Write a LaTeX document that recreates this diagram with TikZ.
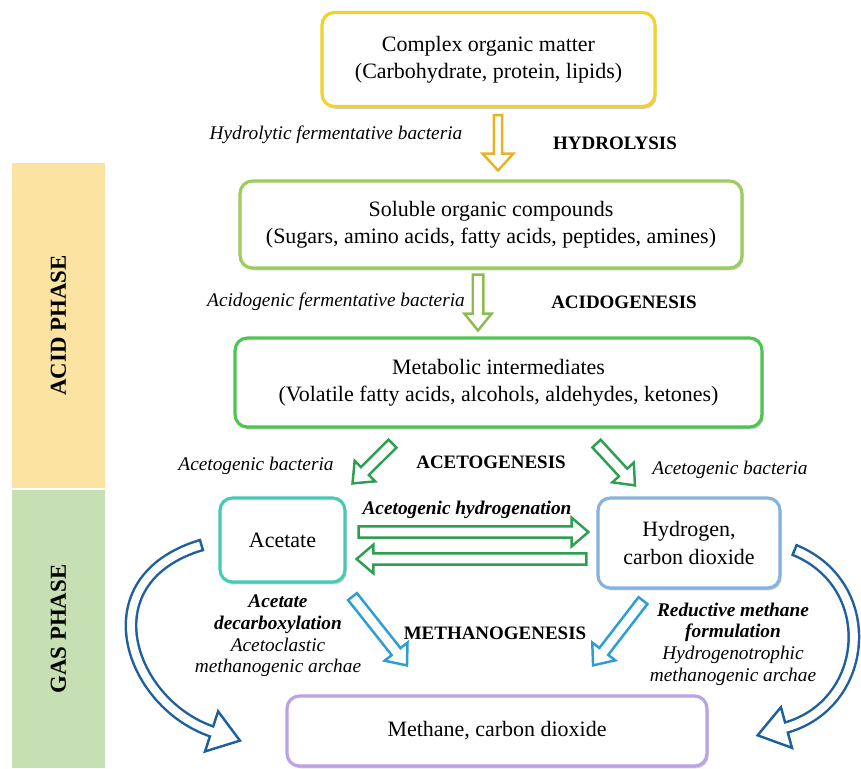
\documentclass[tikz,border=0pt]{standalone}
\usepackage{fontspec}
\setmainfont{Liberation Serif}
\usetikzlibrary{calc, shadows, decorations.markings}

\definecolor{acidfill}{HTML}{FBE3A1}
\definecolor{gasfill}{HTML}{C6E0B4}
\definecolor{boxyellow}{HTML}{F0D22A}
\definecolor{boxlime}{HTML}{9CCB5E}
\definecolor{boxgreen}{HTML}{4EC452}
\definecolor{boxteal}{HTML}{45CBB5}
\definecolor{boxblue}{HTML}{86B2DE}
\definecolor{boxviolet}{HTML}{B9A2E6}
\definecolor{arrgold}{HTML}{E8B226}
\definecolor{arrolive}{HTML}{8DBB4F}
\definecolor{arrgreen}{HTML}{2E9E50}
\definecolor{arrsky}{HTML}{2B9ED2}
\definecolor{arrnavy}{HTML}{1E5F9E}

\tikzset{
    phasebar/.style={rotate=90, minimum height=1.86cm, inner sep=0pt,
        font=\fontsize{13}{15}\selectfont\bfseries},
    stage/.style={draw=#1, line width=1.8pt, rounded corners=7pt, fill=white, align=center,
        font=\fontsize{12.5}{15.5}\selectfont,
        drop shadow={shadow xshift=0.9pt, shadow yshift=-1.3pt, opacity=0.4}},
    bac/.style={font=\fontsize{11}{12.3}\selectfont\itshape, align=center},
    stagename/.style={font=\fontsize{10.8}{13}\selectfont\bfseries},
    arshaft/.store in=\arshaft, arhead/.store in=\arhead, arlen/.store in=\arlen,
    arshaft=3.2pt, arhead=8.3pt, arlen=10pt,
    blockarrow/.style={draw=#1, fill=white, line width=1.4pt, line join=miter,
        to path={let \p1=(\tikztostart), \p2=(\tikztotarget),
            \n1={atan2(\y2-\y1,\x2-\x1)}, \n2={veclen(\x2-\x1,\y2-\y1)} in
            {[shift={(\p1)}, rotate=\n1]
            (0,-\arshaft) -- ({\n2*1pt-\arlen},-\arshaft) -- ({\n2*1pt-\arlen},-\arhead)
            -- ({\n2*1pt},0) -- ({\n2*1pt-\arlen},\arhead) -- ({\n2*1pt-\arlen},\arshaft)
            -- (0,\arshaft) -- cycle}}},
    bendarrow/.style={draw=#1, double=white, double distance=4.5pt, line width=1.4pt,
        postaction={decorate, decoration={markings,
            mark=at position 0 with {\draw[#1, line width=1.4pt] (0,-3.65pt) -- (0,3.65pt);},
            mark=at position 0.999 with {\draw[#1, line width=1.4pt, fill=white, line join=miter]
                (-1pt,-12pt) -- (16pt,0) -- (-1pt,12pt) -- cycle;
                \fill[white] (-2pt,-2.25pt) rectangle (0.5pt,2.25pt);}}}}
}

\begin{document}
\begin{tikzpicture}[x=0.02cm, y=-0.02cm]
    \useasboundingbox (0,0) rectangle (861,768);

    % phases
    \node[phasebar, fill=acidfill, minimum width=6.5cm] (acid) at (58.5,325.5) {ACID PHASE};
    \node[phasebar, fill=gasfill, minimum width=5.56cm] (gas) at (58.5,629) {GAS PHASE};

    % stages
    \node[stage=boxyellow, minimum width=6.66cm, minimum height=1.88cm] (organic) at (488.5,59.5)
        {Complex organic matter\\(Carbohydrate, protein, lipids)};
    \node[stage=boxlime, minimum width=10.04cm, minimum height=1.74cm] (soluble) at (491,224.5)
        {Soluble organic compounds\\(Sugars, amino acids, fatty acids, peptides, amines)};
    \node[stage=boxgreen, minimum width=10.54cm, minimum height=1.78cm] (metabolic) at (498.5,382.5)
        {Metabolic intermediates\\(Volatile fatty acids, alcohols, aldehydes, ketones)};
    \node[stage=boxteal, minimum width=2.5cm, minimum height=1.68cm] (acetate) at (282.5,540) {Acetate};
    \node[stage=boxblue, minimum width=3.64cm, minimum height=1.8cm] (hydrogen) at (689,543)
        {Hydrogen,\\carbon dioxide};
    \node[stage=boxviolet, minimum width=8.4cm, minimum height=1.4cm] (methane) at (497,731)
        {Methane, carbon dioxide};

    % labels
    \node[bac] (hydbac) at (336,135) {Hydrolytic fermentative bacteria};
    \node[stagename] (hydro) at (615,143) {HYDROLYSIS};
    \node[bac] (acidbac) at (336,302) {Acidogenic fermentative bacteria};
    \node[stagename] (acido) at (624,302) {ACIDOGENESIS};
    \node[stagename] (aceto) at (491,462) {ACETOGENESIS};
    \node[bac] (acetbacl) at (256,466) {Acetogenic bacteria};
    \node[bac] (acetbacr) at (730,470) {Acetogenic bacteria};
    \node[bac] (hydrog) at (467,510) {\textbf{Acetogenic hydrogenation}};
    \node[stagename] (methano) at (495,633) {METHANOGENESIS};
    \node[bac] (decarb) at (278,636)
        {\textbf{Acetate}\\\textbf{decarboxylation}\\Acetoclastic\\methanogenic archae};
    \node[bac] (reduct) at (733,644)
        {\textbf{Reductive methane}\\\textbf{formulation}\\Hydrogenotrophic\\methanogenic archae};

    % straight arrows
    \draw[blockarrow=arrgold, arshaft=2.3pt, arhead=8.8pt, arlen=9.6pt]
        ($(organic.south)+(9.5,7)$) to ($(soluble.north)+(7,-9)$);
    \draw[blockarrow=arrolive, arshaft=3pt, arhead=7.8pt, arlen=9.6pt]
        ($(soluble.south)+(-13,5)$) to ($(metabolic.north)+(-20.5,-6)$);
    \draw[blockarrow=arrgreen] ($(metabolic.south)+(-106,15)$) to ($(acetate.north)+(70,-13)$);
    \draw[blockarrow=arrgreen] ($(metabolic.south)+(98,15)$) to ($(hydrogen.north)+(-54,-11)$);
    \draw[blockarrow=arrgreen, arshaft=3.2pt, arhead=8.2pt, arlen=9.6pt]
        ($(acetate.east)+(12,-8)$) to ($(hydrogen.west)+(-8,-11)$);
    \draw[blockarrow=arrgreen, arshaft=3.2pt, arhead=8.2pt, arlen=9.6pt]
        ($(hydrogen.west)+(-10,16)$) to ($(acetate.east)+(10,19)$);
    \draw[blockarrow=arrsky] ($(acetate.south)+(70,13)$) to ($(methane.north)+(-90,-29)$);
    \draw[blockarrow=arrsky] ($(hydrogen.south)+(-46,11)$) to ($(methane.north)+(96,-29)$);

    % curved arrows
    \draw[bendarrow=arrnavy] ($(acetate.west)+(-17,5)$) .. controls (85,580) and (130,705) .. ($(methane.west)+(-72,1)$);
    \draw[bendarrow=arrnavy] ($(hydrogen.east)+(13,7)$) .. controls (880,585) and (870,705) .. ($(methane.east)+(76,-3)$);
\end{tikzpicture}
\end{document}
